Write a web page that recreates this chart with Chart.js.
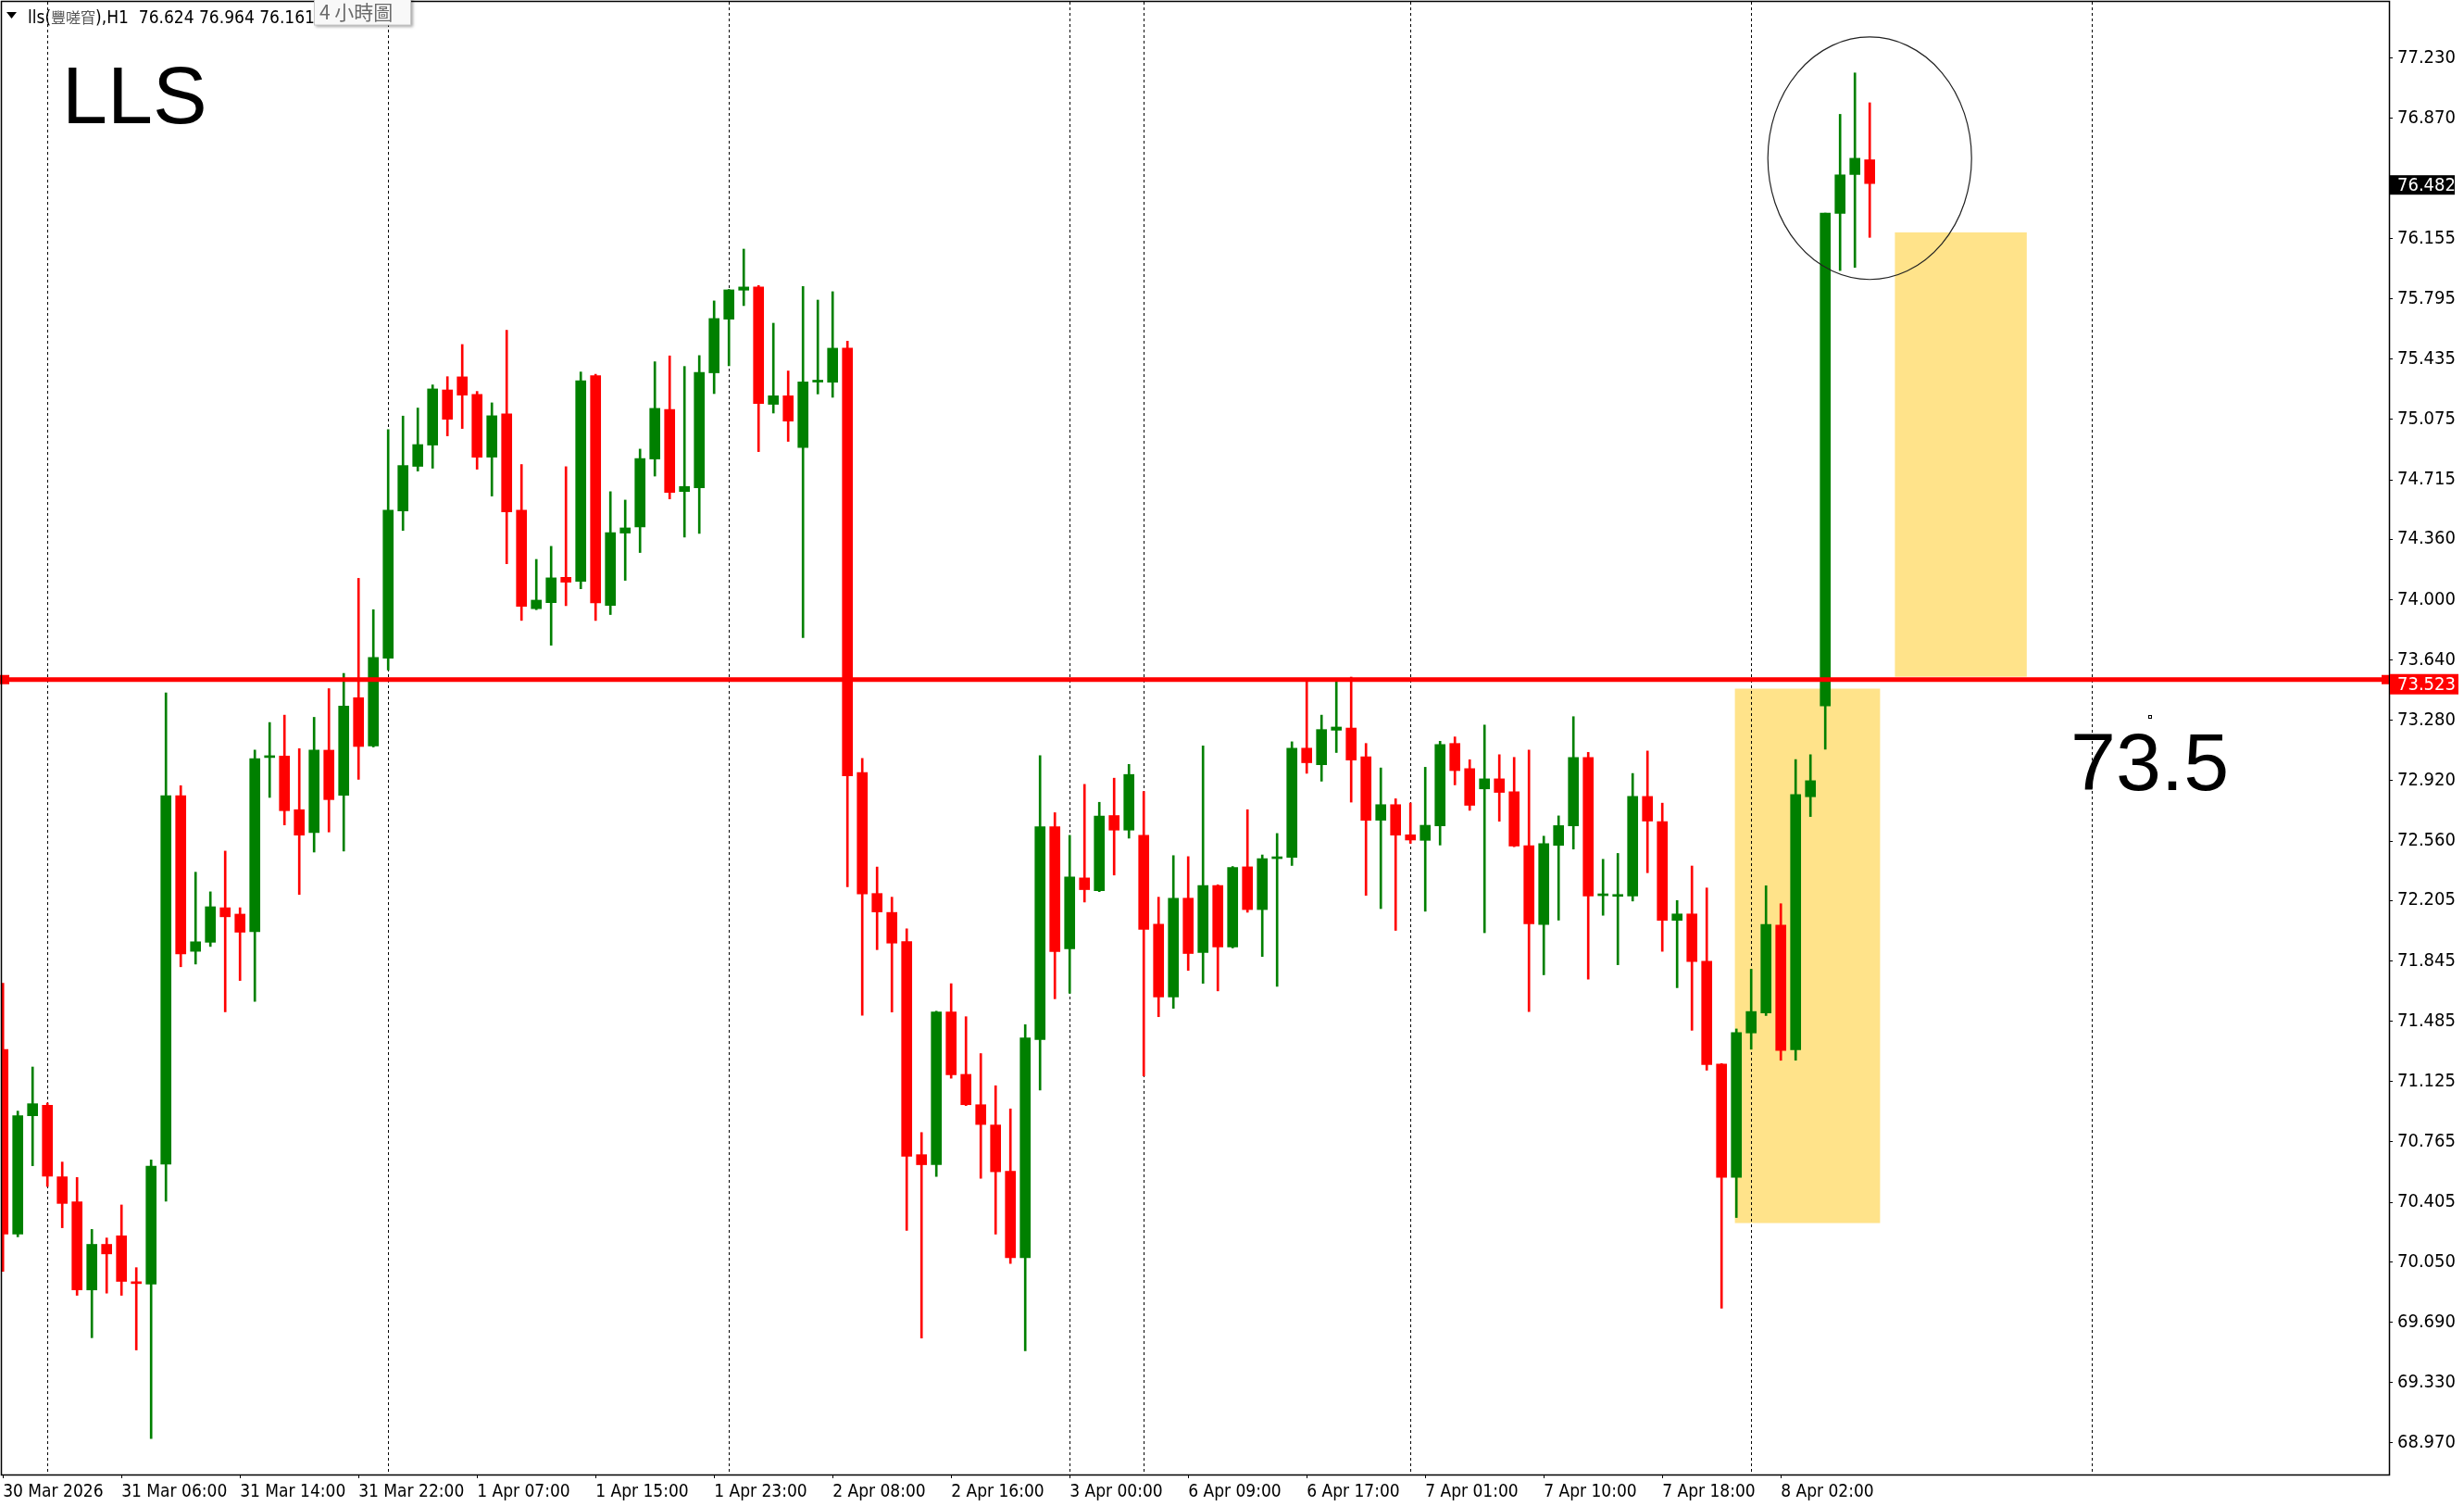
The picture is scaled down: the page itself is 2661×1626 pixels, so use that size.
<!DOCTYPE html>
<html>
<head>
<meta charset="utf-8">
<script src="https://cdn.jsdelivr.net/npm/chart.js@4.4.1/dist/chart.umd.min.js"></script>
<style>
html,body{margin:0;padding:0;background:#fff;}
canvas{display:block;}
</style>
</head>
<body>
<canvas id="c" width="2661" height="1626"></canvas>
<script>
// ── data (H1 bars, index 0 = leftmost) ──────────────
const opens = [
  71.316,70.215,70.921,70.984,70.557,70.408,69.882,70.154,70.205,69.926,
  69.917,70.632,72.830,71.902,71.956,72.162,72.124,72.019,73.058,73.067,
  72.747,72.611,73.102,72.833,73.415,73.127,73.651,74.529,74.795,74.922,
  75.251,75.329,75.224,74.850,75.108,74.533,73.946,73.982,74.133,74.109,
  75.336,73.966,74.397,74.434,74.839,75.135,74.645,74.667,75.353,75.673,
  75.846,75.865,75.165,75.216,74.907,75.298,75.297,75.500,72.969,72.247,
  72.134,71.960,70.689,70.629,71.540,71.168,70.987,70.866,70.590,70.074,
  71.376,72.645,71.917,72.340,72.264,72.712,72.625,72.594,72.064,71.630,
  72.219,71.895,72.295,71.928,72.406,72.151,72.455,72.463,73.114,73.015,
  73.221,73.234,73.063,72.684,72.777,72.597,72.564,72.650,73.142,72.992,
  72.871,72.931,72.854,72.532,72.062,72.534,72.650,73.059,72.234,72.230,
  72.232,72.826,72.676,72.087,72.125,71.843,71.230,70.553,71.415,71.535,
  72.058,71.315,72.824,73.366,76.304,76.536,76.624
];
const highs = [
  71.712,70.949,71.212,70.997,70.645,70.553,70.243,70.192,70.389,70.015,
  70.658,73.444,72.890,72.374,72.257,72.500,72.162,73.102,73.267,73.311,
  73.111,73.298,73.469,73.560,74.127,73.940,75.014,75.095,75.143,75.281,
  75.330,75.522,75.242,75.174,75.607,74.806,74.240,74.318,74.793,75.358,
  75.345,74.644,74.594,74.898,75.419,75.454,75.391,75.456,75.782,75.850,
  76.091,75.874,75.649,75.364,75.868,75.787,75.837,75.542,73.053,72.405,
  72.225,72.036,70.821,71.545,71.709,71.512,71.292,71.100,70.962,71.464,
  73.070,72.729,72.594,72.898,72.791,72.935,73.017,72.856,72.225,72.473,
  72.467,73.128,72.299,72.408,72.747,72.477,72.605,73.152,73.513,73.311,
  73.513,73.538,73.142,72.996,72.812,72.787,73.000,73.155,73.181,73.045,
  73.252,73.075,73.059,73.102,72.589,72.710,73.302,73.089,72.451,72.486,
  72.963,73.097,72.786,72.205,72.411,72.280,71.232,71.439,71.795,72.293,
  72.186,73.046,73.075,76.306,76.895,77.142,76.964
];
const lows = [
  69.993,70.199,70.623,70.499,70.253,69.850,69.597,69.863,69.850,69.524,
  68.996,70.411,71.810,71.826,71.931,71.541,71.728,71.604,72.820,72.656,
  72.241,72.494,72.614,72.500,72.928,73.121,73.580,74.413,74.767,74.784,
  74.977,75.021,74.778,74.618,74.214,73.876,73.940,73.728,73.964,74.065,
  73.876,73.911,74.115,74.281,74.737,74.601,74.373,74.395,75.229,75.395,
  75.754,74.883,75.113,74.944,73.774,75.227,75.207,72.287,71.520,71.912,
  71.540,70.238,69.595,70.559,71.145,70.982,70.548,70.215,70.040,69.519,
  71.075,71.619,71.652,72.196,72.258,72.357,72.577,71.159,71.512,71.562,
  71.788,71.711,71.666,71.922,72.135,71.871,71.693,72.414,72.964,72.917,
  73.088,72.792,72.236,72.157,72.027,72.546,72.141,72.536,72.895,72.743,
  72.013,72.678,72.526,71.542,71.762,72.088,72.512,71.736,72.117,71.822,
  72.202,72.371,71.902,71.685,71.431,71.193,69.773,70.314,71.318,71.519,
  71.252,71.252,72.706,73.107,75.963,75.982,76.161
];
const closes = [
  70.215,70.921,70.993,70.560,70.398,69.882,70.154,70.097,69.933,69.920,
  70.620,72.830,71.886,71.959,72.168,72.108,72.016,73.051,73.064,72.741,
  72.595,73.102,72.807,73.365,73.124,73.655,74.533,74.800,74.925,75.257,
  75.076,75.220,74.850,75.097,74.524,73.960,73.997,74.130,74.104,75.306,
  73.981,74.400,74.428,74.842,75.141,74.640,74.675,75.356,75.677,75.848,
  75.865,75.170,75.216,75.065,75.299,75.302,75.500,72.949,72.244,72.137,
  71.951,70.680,70.629,71.540,71.165,70.987,70.869,70.587,70.074,71.385,
  72.645,71.901,72.346,72.270,72.709,72.625,72.957,72.033,71.630,72.219,
  71.889,72.295,71.928,72.402,72.151,72.455,72.459,73.114,73.027,73.225,
  73.240,73.043,72.684,72.777,72.595,72.566,72.654,73.136,72.980,72.773,
  72.931,72.850,72.530,72.066,72.544,72.652,73.059,72.232,72.238,72.236,
  72.826,72.679,72.087,72.125,71.841,71.227,70.553,71.418,71.543,72.063,
  71.310,72.837,72.920,76.306,76.534,76.633,76.482
];

// time labels every 8 bars
const labelBars = [0,8,16,24,32,40,48,56,64,72,80,88,96,104,112,120];
const timeLabels = [
  "30 Mar 2026","31 Mar 06:00","31 Mar 14:00","31 Mar 22:00",
  "1 Apr 07:00","1 Apr 15:00","1 Apr 23:00","2 Apr 08:00",
  "2 Apr 16:00","3 Apr 00:00","6 Apr 09:00","6 Apr 17:00",
  "7 Apr 01:00","7 Apr 10:00","7 Apr 18:00","8 Apr 02:00"
];
const priceTicks = [
  77.230,76.870,76.155,75.795,75.435,75.075,74.715,74.360,74.000,73.640,
  73.280,72.920,72.560,72.205,71.845,71.485,71.125,70.765,70.405,70.050,
  69.690,69.330,68.970
];
const daySeparators = [3,26,49,72,77,95,118,141];

const levelPrice = 73.523;
const bidPrice   = 76.482;
// yellow zones: [bar from, bar to, price top, price bottom]
const zones = [
  [116.9, 126.7, 73.469, 70.281],
  [127.7, 136.6, 76.191, 73.540]
];
const circleCenter = [126.0, 76.633];
const circleRadius = [6.875, 0.7232];
const noteAnchor = [144.9, 73.301];

// ── styles ───────────────────────────────────────────
const GREEN  = "#008000";
const RED    = "#FF0000";
const YELLOW = "#FFE38A";
const NARROW = "'Liberation Sans Narrow','Arial Narrow','DejaVu Sans Condensed',sans-serif";
const SANS   = "'Liberation Sans',Arial,sans-serif";

const candleColors = closes.map((c,i)=> c >= opens[i] ? GREEN : RED);
const bodyData = opens.map((o,i)=>({ x:i, y:[Math.min(o,closes[i]), Math.max(o,closes[i])] }));
const wickData = highs.map((h,i)=>({ x:i, y:[lows[i], h] }));

function noPad(axis){ axis.paddingTop = 0; axis.paddingBottom = 0; axis.paddingLeft = 0; axis.paddingRight = 0; }

// ── drawing plugin ───────────────────────────────────
const overlay = {
  id: "overlay",
  beforeDatasetsDraw(chart) {
    const { ctx, chartArea:a, scales:{x,y} } = chart;
    ctx.save();
    ctx.beginPath(); ctx.rect(a.left, a.top, a.right-a.left, a.bottom-a.top); ctx.clip();
    ctx.fillStyle = YELLOW;
    zones.forEach(z=>{
      const x0=x.getPixelForValue(z[0]), x1=x.getPixelForValue(z[1]);
      const y0=y.getPixelForValue(z[2]), y1=y.getPixelForValue(z[3]);
      ctx.fillRect(x0, y0, x1-x0, y1-y0);
    });
    ctx.strokeStyle = "#000"; ctx.lineWidth = 1; ctx.setLineDash([3,3]);
    daySeparators.forEach(s=>{
      const px = Math.round(x.getPixelForValue(s))+0.5;
      ctx.beginPath(); ctx.moveTo(px, a.top); ctx.lineTo(px, a.bottom); ctx.stroke();
    });
    ctx.restore();
  },
  afterDatasetsDraw(chart) {
    const { ctx, chartArea:a, scales:{x,y} } = chart;
    ctx.save();
    // level line
    const ly = y.getPixelForValue(levelPrice);
    ctx.fillStyle = RED;
    ctx.fillRect(a.left, ly-2.5, a.right-a.left, 5);
    ctx.fillRect(0, ly-5, 10, 10);
    ctx.fillRect(a.right-8, ly-5, 8, 10);
    // ellipse
    const cx = x.getPixelForValue(circleCenter[0]), cy = y.getPixelForValue(circleCenter[1]);
    const rx = x.getPixelForValue(circleCenter[0]+circleRadius[0]) - cx;
    const ry = cy - y.getPixelForValue(circleCenter[1]+circleRadius[1]);
    ctx.strokeStyle = "#222"; ctx.lineWidth = 1.2;
    ctx.beginPath(); ctx.ellipse(cx, cy, rx, ry, 0, 0, Math.PI*2); ctx.stroke();
    // texts
    ctx.fillStyle = "#000";
    ctx.font = "88px " + SANS;
    ctx.textAlign = "left"; ctx.textBaseline = "alphabetic";
    ctx.fillText("LLS", 67, 133);
    const nx = x.getPixelForValue(noteAnchor[0]), ny = y.getPixelForValue(noteAnchor[1]);
    ctx.textAlign = "center";
    ctx.fillText("73.5", nx, ny+79);
    ctx.lineWidth = 1; ctx.strokeStyle = "#000";
    ctx.strokeRect(Math.round(nx)-1.5, Math.round(ny)-1.5, 3, 3);
    ctx.restore();
  },
  afterDraw(chart) {
    const { ctx, chartArea:a, scales:{y} } = chart;
    ctx.save();
    // frame
    ctx.strokeStyle = "#000"; ctx.lineWidth = 1.5;
    ctx.strokeRect(a.left-0.5, a.top-0.5, a.right-a.left+1, a.bottom-a.top+1);
    // price boxes
    ctx.font = "20px " + NARROW; ctx.textBaseline = "middle"; ctx.textAlign = "left";
    const by = y.getPixelForValue(bidPrice)+1.5;
    ctx.fillStyle = "#000"; ctx.fillRect(a.right+1, by-10.5, 70, 21);
    ctx.fillStyle = "#fff"; ctx.fillText(bidPrice.toFixed(3), 2589, by+1);
    const ry = y.getPixelForValue(levelPrice)+5;
    ctx.fillStyle = RED; ctx.fillRect(a.right+1, ry-11, 74, 22);
    ctx.fillStyle = "#fff"; ctx.fillText(levelPrice.toFixed(3), 2589, ry+1);
    // header
    ctx.fillStyle = "#000";
    ctx.beginPath(); ctx.moveTo(7,13); ctx.lineTo(18,13); ctx.lineTo(12.5,20); ctx.closePath(); ctx.fill();
    ctx.textBaseline = "alphabetic";
    ctx.font = "19px " + NARROW;
    let hx = 30;
    ctx.fillText("lls(", hx, 25); hx += ctx.measureText("lls(").width;
    ctx.fillStyle = "#555"; ctx.font = "16px 'Noto Sans CJK TC',sans-serif";
    ctx.fillText("豐嗟窅", hx, 25); hx += ctx.measureText("豐嗟窅").width;
    ctx.fillStyle = "#000"; ctx.font = "19px " + NARROW;
    ctx.fillText("),H1  76.624 76.964 76.161", hx, 25);
    // period tag
    ctx.shadowColor = "rgba(0,0,0,0.35)"; ctx.shadowOffsetX = 2; ctx.shadowOffsetY = 2; ctx.shadowBlur = 3;
    ctx.fillStyle = "#f8f8f8"; ctx.fillRect(339, -4, 105, 31);
    ctx.shadowColor = "transparent";
    ctx.strokeStyle = "#c8c8c8"; ctx.lineWidth = 1; ctx.strokeRect(339.5, -4, 104, 31);
    ctx.fillStyle = "#6a6a6a"; ctx.font = "21px 'Noto Sans CJK TC',sans-serif";
    ctx.fillText("4 小時圖", 345, 21);
    ctx.restore();
  }
};

// ── chart ────────────────────────────────────────────
Chart.defaults.font.family = NARROW;
Chart.defaults.color = "#000";

new Chart(document.getElementById("c").getContext("2d"), {
  type: "bar",
  data: { datasets: [
    { label:"body", data: bodyData, backgroundColor: candleColors, barThickness: 11,
      minBarLength: 2, grouped: false, borderWidth: 0, borderSkipped: false, order: 0 },
    { label:"wick", data: wickData, backgroundColor: candleColors, barThickness: 2,
      grouped: false, borderWidth: 0, borderSkipped: false, order: 1 }
  ]},
  options: {
    responsive: false, animation: false,
    layout: { padding: { left: 2, top: 2, right: 0, bottom: 0 } },
    plugins: { legend:{display:false}, tooltip:{enabled:false} },
    scales: {
      x: {
        type: "linear", offset: false,
        min: -0.075, max: 161.05,
        grid: { display:true, drawOnChartArea:false, drawTicks:true, tickLength:4, color:"#000", offset:false },
        border: { display:false },
        afterBuildTicks: (axis)=>{ axis.ticks = labelBars.map(v=>({value:v})); },
        afterFit: (axis)=>{ axis.height = 34; noPad(axis); },
        ticks: { autoSkip:false, maxRotation:0, align:"start", padding:4,
                 font:{ size:19 }, color:"#000",
                 callback: (v,i)=> timeLabels[i] }
      },
      y: {
        position: "right",
        min: 68.781, max: 77.566, beginAtZero: false,
        grid: { display:true, drawOnChartArea:false, drawTicks:true, tickLength:4, color:"#000" },
        border: { display:false },
        afterBuildTicks: (axis)=>{ axis.ticks = priceTicks.map(v=>({value:v})); },
        afterFit: (axis)=>{ axis.width = 81; noPad(axis); },
        ticks: { autoSkip:false, padding:5, font:{ size:20 }, color:"#000",
                 callback: (v)=> Number(v).toFixed(3) }
      }
    }
  },
  plugins: [overlay]
});
</script>
</body>
</html>
